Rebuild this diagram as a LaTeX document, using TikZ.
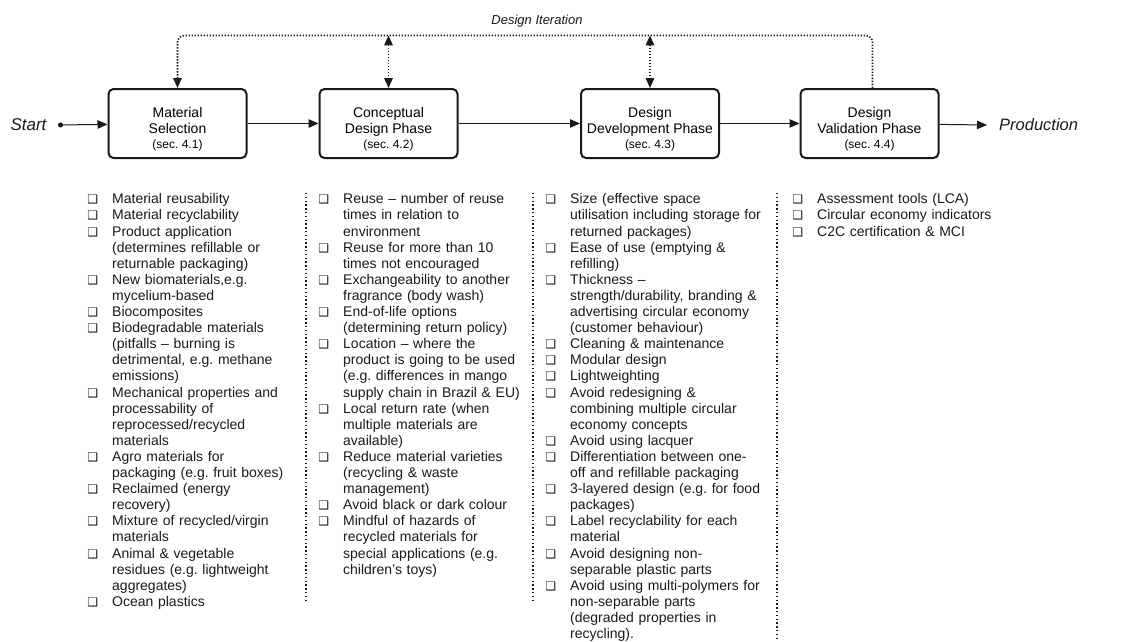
\documentclass[tikz,border=0pt]{standalone}
\usepackage{fontspec}
\setmainfont{Liberation Sans}
\newfontfamily\symfont{DejaVu Sans}
\usetikzlibrary{arrows.meta}
\usetikzlibrary{positioning}
\definecolor{ink}{rgb}{0.1,0.1,0.1}
\frenchspacing
\newcommand{\chkbox}{{\symfont\fontsize{12}{12}\selectfont ❑}}
\newcommand{\secnum}[1]{\\[-1pt]{\fontsize{12}{13}\selectfont (sec. #1)}}
\newenvironment{chklist}{\begin{list}{\chkbox}{\setlength\leftmargin{25pt}\setlength\labelwidth{11pt}\setlength\labelsep{14pt}\setlength\itemsep{0pt}\setlength\parsep{0pt}\setlength\topsep{0pt}\setlength\partopsep{0pt}}}{\end{list}}

\begin{document}
\begin{tikzpicture}[x=1pt, y=-1pt, >={Triangle[length=10pt,width=8.5pt]},
    phase/.style={draw=ink, line width=2pt, rounded corners=5pt, minimum width=138pt, minimum height=69pt, align=center, inner sep=2pt, font=\fontsize{14}{16}\selectfont},
    flow/.style={draw=ink, line width=1pt, ->},
    iter/.style={draw=ink, line width=1.6pt, dash pattern=on 1.4pt off 1.6pt},
    sep/.style={draw=ink, line width=1.4pt, dash pattern=on 1.4pt off 2.4pt},
    lst/.style={anchor=north west, inner sep=0pt, text width=250pt, text=ink, font=\fontsize{14}{16.1}\selectfont\raggedright}]

    \useasboundingbox (0,0) rectangle (1124,642);

    \node[phase] (mat) at (177.5,123.5) {\rule{0pt}{22pt}Material\\Selection\secnum{4.1}};
    \node[phase] (con) at (388.5,123.5) {\rule{0pt}{22pt}Conceptual\\Design Phase\secnum{4.2}};
    \node[phase] (dev) at (650,123.5) {\rule{0pt}{22pt}Design\\Development Phase\secnum{4.3}};
    \node[phase] (val) at (869.5,123.5) {\rule{0pt}{22pt}Design\\Validation Phase\secnum{4.4}};

    \node[font=\fontsize{17}{17}\selectfont\itshape, text=ink] (start) at (28.5,125) {Start};
    \node[font=\fontsize{16.5}{17}\selectfont\itshape, text=ink, anchor=west, inner sep=0pt] (prod) at (999,125) {Production};
    \coordinate (s0) at (58,125);
    \coordinate (top) at (540,35.5);
    \node[font=\fontsize{13}{13}\selectfont\itshape, text=ink] (iterlbl) at (537,21) {Design Iteration};

    \draw[flow, {Circle[length=5pt]}->] (s0) -- (mat);
    \draw[flow] (mat) -- (con);
    \draw[flow] (con) -- (dev);
    \draw[flow] (dev) -- (val);
    \draw[flow] (val) -- ([xshift=-12pt]prod.west);

    \draw[iter, rounded corners=7pt, ->] ([xshift=3pt]val.north) -- ([xshift=3pt]val.north |- top) -- (mat.north |- top) -- (mat.north);
    \draw[iter, <->] (con.north |- top) -- (con.north);
    \draw[iter, <->] (dev.north |- top) -- (dev.north);

    \draw[sep] (306,193) -- (306,600);
    \draw[sep] (533,193) -- (533,600);
    \draw[sep] (777,193) -- (777,640);

    \node[lst] (lstmat) at (87,187.5) {\begin{chklist}
        \item Material reusability
        \item Material recyclability
        \item Product application\\(determines refillable or\\returnable packaging)
        \item New biomaterials,e.g.\\mycelium-based
        \item Biocomposites
        \item Biodegradable materials\\(pitfalls – burning is\\detrimental, e.g. methane\\emissions)
        \item Mechanical properties and\\processability of\\reprocessed/recycled\\materials
        \item Agro materials for\\packaging (e.g. fruit boxes)
        \item Reclaimed (energy\\recovery)
        \item Mixture of recycled/virgin\\materials
        \item Animal \& vegetable\\residues (e.g. lightweight\\aggregates)
        \item Ocean plastics
    \end{chklist}};

    \node[lst] (lstcon) at (318,187.5) {\begin{chklist}
        \item Reuse – number of reuse\\times in relation to\\environment
        \item Reuse for more than 10\\times not encouraged
        \item Exchangeability to another\\fragrance (body wash)
        \item End-of-life options\\(determining return policy)
        \item Location – where the\\product is going to be used\\(e.g. differences in mango\\supply chain in Brazil \& EU)
        \item Local return rate (when\\multiple materials are\\available)
        \item Reduce material varieties\\(recycling \& waste\\management)
        \item Avoid black or dark colour
        \item Mindful of hazards of\\recycled materials for\\special applications (e.g.\\children's toys)
    \end{chklist}};

    \node[lst] (lstdev) at (545,187.5) {\begin{chklist}
        \item Size (effective space\\utilisation including storage for\\returned packages)
        \item Ease of use (emptying \&\\refilling)
        \item Thickness –\\strength/durability, branding \&\\advertising circular economy\\(customer behaviour)
        \item Cleaning \& maintenance
        \item Modular design
        \item Lightweighting
        \item Avoid redesigning \&\\combining multiple circular\\economy concepts
        \item Avoid using lacquer
        \item Differentiation between one-\\off and refillable packaging
        \item 3-layered design (e.g. for food\\packages)
        \item Label recyclability for each\\material
        \item Avoid designing non-\\separable plastic parts
        \item Avoid using multi-polymers for\\non-separable parts\\(degraded properties in\\recycling).
    \end{chklist}};

    \node[lst] (lstval) at (792,187.5) {\begin{chklist}
        \item Assessment tools (LCA)
        \item Circular economy indicators
        \item C2C certification \& MCI
    \end{chklist}};

\end{tikzpicture}
\end{document}
